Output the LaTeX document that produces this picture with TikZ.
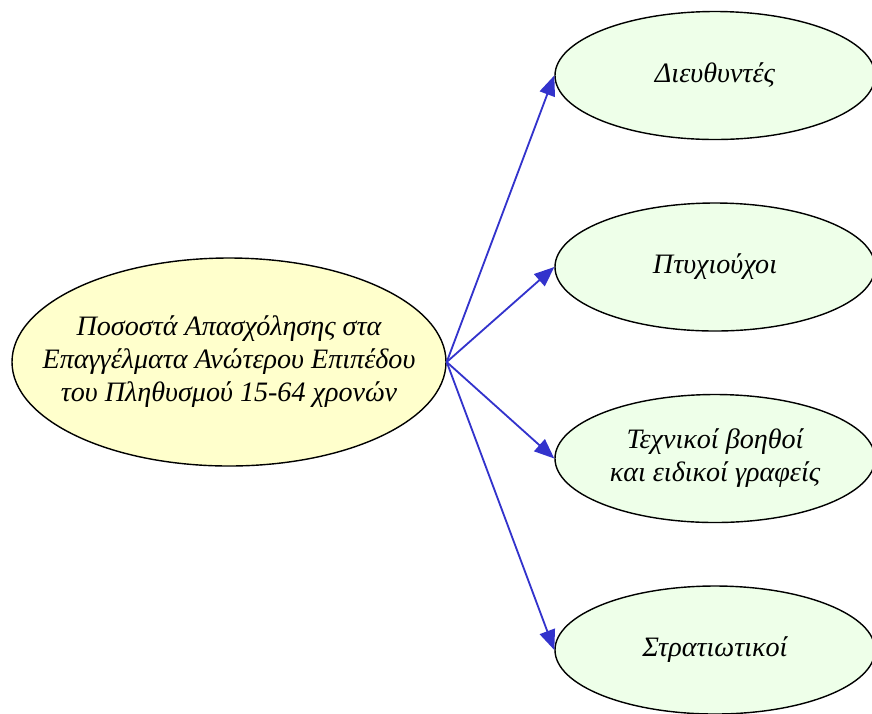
\documentclass[tikz,border=0pt]{standalone}
\usepackage{fontspec}
\setmainfont{Liberation Serif}
\usepackage{tikz}
\usetikzlibrary{arrows.meta,shapes.geometric}
\definecolor{rootyellow}{HTML}{FFFFCC}
\definecolor{leafgreen}{HTML}{EEFFE9}
\definecolor{linkblue}{HTML}{3333CC}
\tikzset{
  oval/.style={ellipse, draw=black, line width=1pt, fill=#1, align=center,
               inner sep=0pt, font=\itshape\fontsize{20}{23.5}\selectfont},
  rootoval/.style={oval=rootyellow, inner xsep=-40pt,
                   minimum width=10.85cm, minimum height=5.2cm},
  leafoval/.style={oval=leafgreen, minimum width=8.0cm, minimum height=3.2cm},
  link/.style={-{Triangle[length=5mm,width=4mm]}, line width=1.3pt,
               draw=linkblue, fill=linkblue},
}

\begin{document}
\begin{tikzpicture}
\useasboundingbox (0,0) rectangle (21.8,-17.825);
\def\lx{17.875}
\def\dy{4.7875}

\node[rootoval] at (5.725,-9.05) (pososta)
  {Ποσοστά Απασχόλησης στα\\Επαγγέλματα Ανώτερου Επιπέδου\\του Πληθυσμού 15-64 χρονών};

\node[leafoval] at (\lx,-1.8875) (dieuth) {Διευθυντές};
\node[leafoval] at (\lx,-1.8875-\dy) (ptyx) {Πτυχιούχοι};
\node[leafoval] at (\lx,-1.8875-2*\dy) (techn) {Τεχνικοί βοηθοί\\και ειδικοί γραφείς};
\node[leafoval] at (\lx,-1.8875-3*\dy) (strat) {Στρατιωτικοί};

\foreach \b in {dieuth, ptyx, techn, strat}{
  \draw[link] (pososta.east) -- (\b.west);}
\end{tikzpicture}
\end{document}
